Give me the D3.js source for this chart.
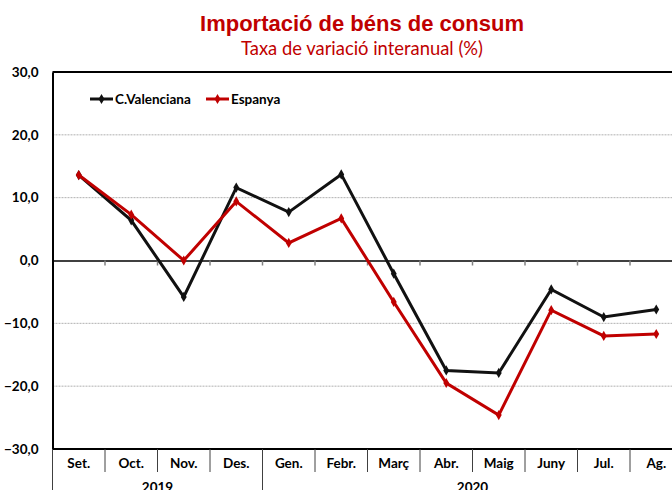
<!DOCTYPE html>
<html>
<head>
<meta charset="utf-8">
<script src="https://cdn.jsdelivr.net/npm/d3@7"></script>
<style>
  body { margin: 0; background: #fff; }
  svg { display: block; }
  .lbl { font-family: Lato, "Open Sans", sans-serif; font-weight: bold; fill: #000; }
</style>
</head>
<body>
<svg id="chart"></svg>
<script>
// data
var months = ["Set.", "Oct.", "Nov.", "Des.", "Gen.", "Febr.", "Març", "Abr.", "Maig", "Juny", "Jul.", "Ag."];
var years = [{ name: "2019", from: 0, to: 4 }, { name: "2020", from: 4, to: 12 }];
var valenciana = [13.6, 6.4, -5.8, 11.6, 7.7, 13.7, -2.1, -17.5, -17.9, -4.6, -9.0, -7.8];
var espanya = [13.6, 7.3, 0.0, 9.4, 2.8, 6.7, -6.6, -19.5, -24.6, -7.9, -12.0, -11.7];
var yTicks = [-30, -20, -10, 0, 10, 20, 30];

(function() {
  var width = 672, height = 490;
  var pLeft = 52.5, pRight = 682.5, pTop = 72, pBottom = 449;

  var svg = d3.select("#chart").attr("width", width).attr("height", height);

  var x = d3.scaleBand().domain(months).range([pLeft, pRight]);
  var y = d3.scaleLinear().domain([-30, 30]).range([pBottom, pTop]);

  // titles
  svg.append("text")
    .attr("x", 362).attr("y", 31)
    .attr("text-anchor", "middle")
    .style("font-family", "'Liberation Sans', Arial, sans-serif")
    .style("font-weight", "bold")
    .style("font-size", "22px")
    .style("fill", "#c00000")
    .text("Importació de béns de consum");

  svg.append("text")
    .attr("x", 362).attr("y", 55)
    .attr("text-anchor", "middle")
    .style("font-family", "Lato, 'Open Sans', sans-serif")
    .style("font-size", "18.4px")
    .style("fill", "#c00000")
    .text("Taxa de variació interanual (%)");

  // gridlines
  svg.append("g").selectAll("line")
    .data(yTicks.filter(function(d) { return d !== 0 && d !== 30 && d !== -30; }))
    .enter().append("line")
    .attr("x1", pLeft).attr("x2", pRight)
    .attr("y1", function(d) { return y(d); })
    .attr("y2", function(d) { return y(d); })
    .attr("stroke", "#b0b0b0")
    .attr("stroke-width", 1)
    .attr("stroke-dasharray", "2,1");

  // y axis
  var yAxis = svg.append("g")
    .attr("transform", "translate(" + pLeft + ",0)")
    .call(d3.axisLeft(y).tickValues(yTicks).tickSize(0).tickPadding(14)
      .tickFormat(function(d) { return d3.format(".1f")(d).replace(".", ","); }));
  yAxis.select(".domain").attr("stroke", "#000").attr("stroke-width", 2);
  yAxis.selectAll("text").attr("class", "lbl").style("font-size", "13.5px");

  // top and bottom borders
  svg.append("line").attr("x1", pLeft).attr("x2", pRight)
    .attr("y1", y(30)).attr("y2", y(30)).attr("stroke", "#000").attr("stroke-width", 2);
  svg.append("line").attr("x1", pLeft).attr("x2", pRight)
    .attr("y1", y(-30)).attr("y2", y(-30)).attr("stroke", "#000").attr("stroke-width", 2);

  // zero axis with ticks between categories
  var zeroAxis = svg.append("g")
    .attr("transform", "translate(0," + y(0) + ")")
    .call(d3.axisBottom(x).tickSize(0).tickFormat(""));
  zeroAxis.select(".domain").attr("stroke", "#000").attr("stroke-width", 1.5);
  zeroAxis.selectAll(".tick").remove();
  zeroAxis.selectAll("line.sep")
    .data(months.slice(1))
    .enter().append("line")
    .attr("class", "sep")
    .attr("x1", function(d) { return x(d); })
    .attr("x2", function(d) { return x(d); })
    .attr("y1", 0).attr("y2", 5)
    .attr("stroke", "#808080").attr("stroke-width", 1.5);

  // category labels (bottom)
  var cat = svg.append("g");
  cat.selectAll("line.m")
    .data(months)
    .enter().append("line")
    .attr("x1", function(d) { return x(d); })
    .attr("x2", function(d) { return x(d); })
    .attr("y1", pBottom).attr("y2", pBottom + 23)
    .attr("stroke", "#404040").attr("stroke-width", 1);
  cat.selectAll("text.m")
    .data(months)
    .enter().append("text")
    .attr("class", "lbl")
    .attr("x", function(d) { return x(d) + x.bandwidth() / 2; })
    .attr("y", pBottom + 19)
    .attr("text-anchor", "middle")
    .style("font-size", "13.5px")
    .text(function(d) { return d; });
  cat.selectAll("line.y")
    .data(years)
    .enter().append("line")
    .attr("x1", function(d) { return x(months[d.from]); })
    .attr("x2", function(d) { return x(months[d.from]); })
    .attr("y1", pBottom).attr("y2", height)
    .attr("stroke", "#404040").attr("stroke-width", 1);
  cat.selectAll("text.y")
    .data(years)
    .enter().append("text")
    .attr("class", "lbl")
    .attr("x", function(d) {
      var a = x(months[d.from]);
      var b = d.to < months.length ? x(months[d.to]) : pRight;
      return (a + b) / 2;
    })
    .attr("y", pBottom + 43)
    .attr("text-anchor", "middle")
    .style("font-size", "13.5px")
    .text(function(d) { return d.name; });

  // lines
  var line = d3.line()
    .x(function(d, i) { return x(months[i]) + x.bandwidth() / 2; })
    .y(function(d) { return y(d); });

  var series = [
    { name: "C.Valenciana", values: valenciana, color: "#111" },
    { name: "Espanya", values: espanya, color: "#c00000" }
  ];

  var diamond = d3.symbol().type(d3.symbolDiamond).size(30);

  series.forEach(function(s) {
    svg.append("path")
      .datum(s.values)
      .attr("d", line)
      .attr("fill", "none")
      .attr("stroke", s.color)
      .attr("stroke-width", 3)
      .attr("stroke-linejoin", "miter");
    svg.append("g").selectAll("path")
      .data(s.values)
      .enter().append("path")
      .attr("d", diamond)
      .attr("transform", function(d, i) {
        return "translate(" + (x(months[i]) + x.bandwidth() / 2) + "," + y(d) + ")";
      })
      .attr("fill", s.color);
  });

  // legend
  var legend = svg.append("g").attr("transform", "translate(90,99)");
  var legX = [0, 116];
  series.forEach(function(s, i) {
    var g = legend.append("g").attr("transform", "translate(" + legX[i] + ",0)");
    g.append("line").attr("x1", 0).attr("x2", 23).attr("y1", 0).attr("y2", 0)
      .attr("stroke", s.color).attr("stroke-width", 3);
    g.append("path").attr("d", diamond).attr("transform", "translate(11.5,0)").attr("fill", s.color);
    g.append("text").attr("class", "lbl")
      .attr("x", 25).attr("y", 4.5)
      .style("font-size", "13.5px")
      .text(s.name);
  });
})();
</script>
</body>
</html>
